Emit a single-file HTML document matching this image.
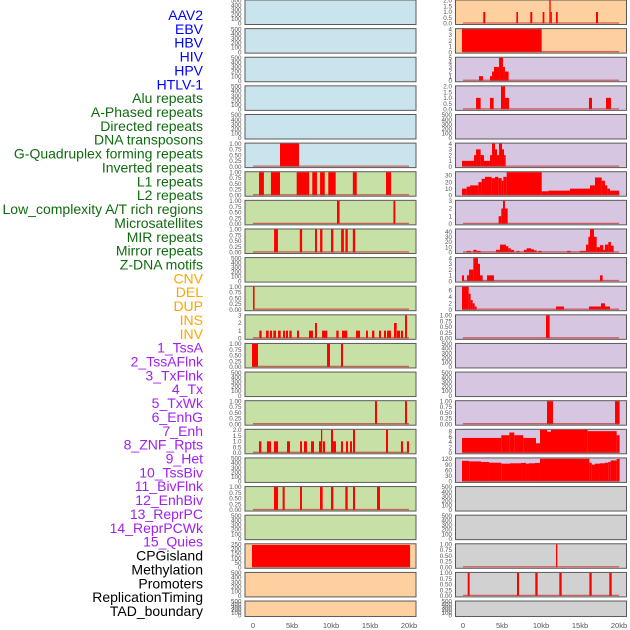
<!DOCTYPE html>
<html><head><meta charset="utf-8"><style>
html,body{margin:0;padding:0;background:#fff;}
svg{display:block;font-family:"Liberation Sans",sans-serif;}
</style></head><body>
<svg id="chart" width="630" height="630" viewBox="0 0 630 630"></svg>
<script>
// ---- data ----
const labelNames = ["AAV2","EBV","HBV","HIV","HPV","HTLV-1","Alu repeats","A-Phased repeats","Directed repeats","DNA transposons","G-Quadruplex forming repeats","Inverted repeats","L1 repeats","L2 repeats","Low_complexity A/T rich regions","Microsatellites","MIR repeats","Mirror repeats","Z-DNA motifs","CNV","DEL","DUP","INS","INV","1_TssA","2_TssAFlnk","3_TxFlnk","4_Tx","5_TxWk","6_EnhG","7_Enh","8_ZNF_Rpts","9_Het","10_TssBiv","11_BivFlnk","12_EnhBiv","13_ReprPC","14_ReprPCWk","15_Quies","CPGisland","Methylation","Promoters","ReplicationTiming","TAD_boundary"];
const labelGroups = [0,0,0,0,0,0,1,1,1,1,1,1,1,1,1,1,1,1,1,2,2,2,2,2,3,3,3,3,3,3,3,3,3,3,3,3,3,3,3,4,4,4,4,4];
const groupColors = ["#0000ff","#106b10","#ffa500","#a020f0","#000000"];
const xTickValues = [0,5,10,15,20];
const xTickLabels = ["0","5kb","10kb","15kb","20kb"];

const leftBg = ["b","b","b","b","b","b","g","g","g","g","g","g","g","g","g","g","g","g","g","p","p","p"];
const rightBg = ["p","p","l","l","l","l","l","l","l","l","l","l","l","l","l","l","l","y","y","y","y","y"];
const leftYmax = [500,500,500,500,500,1,1,1,1,500,1,3,1,500,1,2,500,1,500,250,500,500];
const rightYmax = [2,4,5,2,500,4,35,3,44,4,7.2,1,500,500,1,8.5,123,500,500,1,1,500];
const leftTicks = [[0,100,200,300,400,500],[0,100,200,300,400,500],[0,100,200,300,400,500],[0,100,200,300,400,500],[0,100,200,300,400,500],[0,0.25,0.5,0.75,1],[0,0.25,0.5,0.75,1],[0,0.25,0.5,0.75,1],[0,0.25,0.5,0.75,1],[0,100,200,300,400,500],[0,0.25,0.5,0.75,1],[0,1,2,3],[0,0.25,0.5,0.75,1],[0,100,200,300,400,500],[0,0.25,0.5,0.75,1],[0,0.5,1,1.5,2],[0,100,200,300,400,500],[0,0.25,0.5,0.75,1],[0,100,200,300,400,500],[0,50,100,150,200,250],[0,100,200,300,400,500],[0,100,200,300,400,500]];
const rightTicks = [[0,0.5,1,1.5,2],[0,1,2,3,4],[0,1,2,3,4,5],[0,0.5,1,1.5,2],[0,100,200,300,400,500],[0,1,2,3,4],[0,10,20,30],[0,1,2,3],[0,10,20,30,40],[0,1,2,3,4],[0,2,4,6],[0,0.25,0.5,0.75,1],[0,100,200,300,400,500],[0,100,200,300,400,500],[0,0.25,0.5,0.75,1],[0,2,4,6,8],[0,30,60,90,120],[0,100,200,300,400,500],[0,100,200,300,400,500],[0,0.25,0.5,0.75,1],[0,0.25,0.5,0.75,1],[0,100,200,300,400,500]];
// bars: [startKb, endKb, value]
const leftBars = [
 [],[],[],[],[],
 [[3.46,5.9,1]],
 [[0.77,1.4,1],[2.3,3.46,1],[5.6,7.2,1],[7.6,8.2,1],[8.6,9.2,1],[9.65,10.6,1],[12.8,13.3,1],[17.05,17.7,1]],
 [[10.77,11.1,1],[18.0,18.25,1]],
 [[2.7,3.2,1],[6.0,6.3,1],[7.95,8.2,1],[8.6,8.9,1],[10.0,10.3,1],[11.3,11.65,1],[11.85,12.15,1],[12.8,13.1,1]],
 [],
 [[0.0,0.2,1]],
 [[0.81,1.11,1],[1.67,2.01,1],[2.18,2.44,1],[2.61,2.95,1],[3.21,3.55,1],[3.85,4.1,1],[4.23,4.49,1],[4.66,4.96,1],[5.64,5.9,1],[7.18,7.69,1],[7.95,8.2,2],[8.85,9.53,1],[10.68,10.98,1],[11.41,12.09,1],[13.2,13.72,1],[14.49,14.74,1],[15.26,15.56,1],[16.15,16.41,1],[16.79,17.05,1],[17.18,17.69,1],[18.08,18.42,2],[18.46,18.85,1],[18.97,19.23,1],[19.49,19.74,3]],
 [[-0.13,0.64,1],[9.49,9.87,1],[11.28,11.54,1]],
 [],
 [[15.64,15.9,1],[19.49,19.74,1]],
 [[0.77,1.07,1],[1.79,2.31,1],[2.69,3.21,1],[4.36,4.74,1],[6.03,6.28,1],[6.54,6.92,1],[7.44,7.82,1],[8.46,8.72,1],[8.72,8.85,2],[8.97,9.23,1],[10.0,10.26,2],[10.26,10.64,1],[11.28,11.54,1],[11.92,12.18,1],[12.44,12.69,1],[12.82,13.08,2],[17.05,17.31,2],[18.97,19.23,1],[19.74,20.0,1]],
 [],
 [[2.69,3.21,1],[3.8,4.06,1],[6.03,6.28,1],[8.59,8.93,1],[10.0,10.3,1],[11.84,12.14,1],[12.82,13.08,1],[15.9,16.28,1]],
 [],
 [[-0.13,20.13,243]],
 [],[]
];
const rightBars = [
 [[2.6,2.86,1],[6.84,7.05,1],[8.63,8.88,1],[10.21,10.43,1],[11.07,11.24,2],[11.24,11.37,1],[11.92,12.14,1],[17.05,17.31,1]],
 [[-0.13,10.08,4]],
 [[2.05,2.56,1],[3.46,3.72,1],[3.72,3.97,2],[3.97,4.62,3],[4.62,5.13,5],[5.13,5.38,3],[5.38,5.85,2]],
 [[1.67,2.26,1],[3.46,3.93,1],[4.87,5.38,2],[5.38,5.9,1],[16.15,16.54,1],[18.33,18.97,1]],
 [],
 [[-0.13,1.41,1],[1.41,1.67,2],[1.67,2.26,3],[2.26,2.69,2],[2.69,3.46,1],[3.46,3.72,2],[3.72,4.1,4],[4.1,4.36,3],[4.36,4.62,2],[4.62,5.0,4],[5.0,5.26,3],[5.26,5.47,2]],
 [[-0.13,0.47,10],[0.47,0.9,13],[0.9,1.97,15],[1.97,2.39,20],[2.39,2.82,25],[2.82,3.67,28],[3.67,4.1,26],[4.1,4.53,28],[4.53,4.96,26],[4.96,5.17,22],[5.17,5.6,28],[5.6,10.09,35],[10.09,10.94,6],[10.94,13.72,7],[13.72,16.28,10],[16.28,16.92,15],[16.92,17.78,27],[17.78,18.2,22],[18.2,18.5,15],[18.5,18.85,10],[18.85,20.04,7]],
 [[4.57,4.91,1],[4.91,5.13,2],[5.13,5.38,3],[5.38,5.73,2]],
 [[0.47,1.02,3],[1.32,1.75,5],[1.75,2.26,3],[4.23,4.74,5],[4.74,5.51,15],[5.51,5.81,12],[5.81,6.11,8],[6.11,6.54,5],[6.88,7.22,3],[7.82,8.16,5],[8.16,8.72,8],[8.72,9.1,6],[9.1,9.44,4],[9.66,10.09,3],[13.33,13.8,3],[14.96,15.77,3],[15.77,16.07,15],[16.07,16.28,30],[16.28,16.79,44],[16.79,17.14,30],[17.14,17.56,10],[17.56,17.99,14],[17.99,18.2,5],[18.2,18.63,15],[18.63,18.97,20],[18.97,19.32,13]],
 [[-0.13,0.13,1],[0.51,0.77,1],[0.77,1.32,2],[1.32,1.92,4],[1.92,2.18,3],[2.18,2.52,1],[3.08,3.97,1],[17.56,17.9,1]],
 [[-0.13,0.73,7.2],[0.73,0.98,5],[0.98,1.24,3],[1.24,1.5,2],[1.5,1.75,1],[11.92,12.95,1],[16.15,17.69,1],[17.69,18.2,2],[18.2,18.85,1]],
 [[10.64,11.11,1]],
 [],[],
 [[10.77,11.54,1],[19.49,20.08,1]],
 [[-0.13,4.91,5.5],[4.91,5.94,6.5],[5.94,6.58,7.5],[6.58,7.73,6.5],[7.73,9.36,5.5],[9.36,9.87,3.5],[9.87,10.77,8.5],[10.77,11.28,7.8],[11.28,15.98,8.5],[15.98,19.7,8],[19.7,20.08,6.5]],
 [[-0.13,0.81,110],[0.81,2.31,107],[2.31,3.33,104],[3.33,4.91,100],[4.91,6.03,95],[6.03,7.44,97],[7.44,8.08,99],[8.08,8.46,95],[8.46,9.23,97],[9.23,9.87,99],[9.87,16.2,121],[16.2,16.5,100],[16.5,16.92,90],[16.92,17.56,95],[17.56,18.2,97],[18.2,18.63,100],[18.63,18.93,104],[18.93,19.7,112],[19.7,20.08,120]],
 [],[],
 [[11.92,12.09,1]],
 [[0.6,0.85,1],[6.92,7.18,1],[9.27,9.57,1],[12.35,12.65,1],[16.2,16.5,1],[18.76,19.06,1]],
 []
];

// ---- drawing ----
const NS = "http://www.w3.org/2000/svg";
const svg = document.getElementById("chart");
const bgColors = {b:"#c9e4ec", g:"#c7e0a5", p:"#ffd09f", l:"#d7c6e2", y:"#d1d1d1"};
function mk(tag, attrs, parent){
  const e = document.createElementNS(NS, tag);
  for (const k in attrs) e.setAttribute(k, attrs[k]);
  (parent||svg).appendChild(e);
  return e;
}
const PITCH = 28.62;
function rowTop(i){ return i*PITCH; }
function rowH(i){ return i===21 ? 15.5 : 24.5; }
const cols = [{x0:245, x1:416, zero:253}, {x0:455.5, x1:626.5, zero:463}];
const PXKB = 7.8;
function xScale(c, kb){ return cols[c].zero + kb*PXKB; }
function yScale(i, ymax, v){ const base = rowTop(i)+rowH(i)-1; const top = rowTop(i)+0.5; return base - (v/ymax)*(base-top); }
function fmt(t, ticks){
  const step = ticks[1]-ticks[0];
  if (step===0.25) return t.toFixed(2);
  if (step===0.5) return t.toFixed(1);
  return String(t);
}

// labels
labelNames.forEach((name, k) => {
  const t = mk("text", {x:203, y:(20 + k*13.86).toFixed(2), "text-anchor":"end", "font-size":"14", fill:groupColors[labelGroups[k]]});
  
  
  t.textContent = name;
});

function drawCol(c, bgArr, ymaxArr, tickArr, barArr){
  for (let i=0;i<22;i++){
    const g = mk("g", {});
    
    
    const top = rowTop(i), h = rowH(i);
    const r = mk("rect", {x:cols[c].x0, y:top, width:cols[c].x1-cols[c].x0, height:h, fill:bgColors[bgArr[i]], stroke:"#5a5a5a", "stroke-width":"1"}, g);
    
    
    // ticks
    tickArr[i].forEach(t => {
      const tx = mk("text", {x:cols[c].x0-3.5, y:(yScale(i, ymaxArr[i], t)+2.2).toFixed(2), "text-anchor":"end", "font-size":"6.3", fill:"#555"}, g);
      
      
      tx.textContent = fmt(t, tickArr[i]);
    });
    // bars
    barArr[i].forEach(b => {
      const xa = xScale(c, b[0]), xb = xScale(c, b[1]);
      const ya = yScale(i, ymaxArr[i], Math.min(b[2], ymaxArr[i]));
      const yb = yScale(i, ymaxArr[i], 0);
      const br = mk("rect", {x:xa.toFixed(2), y:ya.toFixed(2), width:Math.max(1.2, xb-xa).toFixed(2), height:(yb-ya).toFixed(2), fill:"#ff0000"}, g);
      
      
    });
    // baseline
    if (barArr[i].length){
      const yb = yScale(i, ymaxArr[i], 0);
      const ln = mk("line", {x1:xScale(c,0), x2:xScale(c,20), y1:yb-0.5, y2:yb-0.5, stroke:"#c83030", "stroke-opacity":"0.7", "stroke-width":"1.3"}, g);
      
      
    }
  }
  xTickValues.forEach((v, k) => {
    const t = mk("text", {x:xScale(c, v), y:628, "text-anchor":"middle", "font-size":"7.5", fill:"#555"});
    
    
    t.textContent = xTickLabels[k];
  });
}
drawCol(0, leftBg, leftYmax, leftTicks, leftBars);
drawCol(1, rightBg, rightYmax, rightTicks, rightBars);
</script>
</body></html>
